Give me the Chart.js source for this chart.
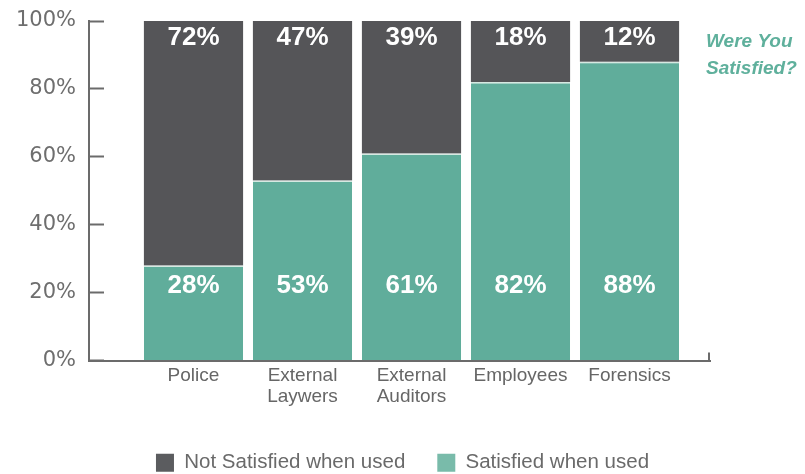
<!DOCTYPE html>
<html><head><meta charset="utf-8">
<script src="https://cdn.jsdelivr.net/npm/chart.js@4/dist/chart.umd.min.js"></script>
<style>html,body{margin:0;padding:0;background:#fff;} #wrap{width:805px;height:474px;position:relative;}</style>
</head><body><div id="wrap"><canvas id="c"></canvas></div>
<script>
const categories = [['Police'], ['External', 'Laywers'], ['External', 'Auditors'], ['Employees'], ['Forensics']];
const satisfied = [28, 53, 61, 82, 88];
const notSatisfied = [72, 47, 39, 18, 12];
const yTicks = [0, 20, 40, 60, 80, 100];
const seriesNames = ['Satisfied when used', 'Not Satisfied when used'];
const sideNote = ['Were You', 'Satisfied?'];

const GRAY = '#555558', TEAL = '#60ad9b', AXIS = '#6b6b6b';
const toPoints = arr => arr.map((v, i) => ({x: i, y: v}));

const valueLabels = {
  id: 'valueLabels',
  afterDatasetsDraw(chart) {
    const ctx = chart.ctx, ys = chart.scales.y;
    ctx.save();
    ctx.font = 'bold 26px "Liberation Sans", Arial, sans-serif';
    ctx.fillStyle = '#ffffff';
    ctx.textAlign = 'center';
    ctx.textBaseline = 'middle';
    chart.getDatasetMeta(1).data.forEach((bar, i) => {
      ctx.fillText(notSatisfied[i] + '%', bar.x, bar.y + 17);
    });
    chart.getDatasetMeta(0).data.forEach((bar, i) => {
      ctx.fillText(satisfied[i] + '%', bar.x, ys.getPixelForValue(22.2) + 1);
    });
    ctx.restore();
  },
  afterDraw(chart) {
    const ctx = chart.ctx, a = chart.chartArea, xs = chart.scales.x;
    ctx.save();
    ctx.strokeStyle = AXIS; ctx.lineWidth = 2;
    ctx.beginPath();
    ctx.moveTo(xs.right - 1, a.bottom);
    ctx.lineTo(xs.right - 1, a.bottom - 8);
    ctx.stroke();
    ctx.font = 'italic bold 19px "Liberation Sans", Arial, sans-serif';
    ctx.fillStyle = '#5fb09c';
    ctx.textAlign = 'left';
    ctx.textBaseline = 'middle';
    ctx.fillText(sideNote[0], a.right - 4, a.top + 21);
    ctx.fillText(sideNote[1], a.right - 4, a.top + 48);
    ctx.restore();
  }
};

const legendFills = ['#79bbaa', '#5b5c5f'];

new Chart(document.getElementById('c'), {
  type: 'bar',
  data: {
    datasets: [
      {label: seriesNames[0], data: toPoints(satisfied), backgroundColor: TEAL,
       borderColor: '#d6e9e2', borderWidth: {top: 1.5, left: 0, right: 0, bottom: 0},
       barPercentage: 0.91, categoryPercentage: 1},
      {label: seriesNames[1], data: toPoints(notSatisfied), backgroundColor: GRAY,
       borderWidth: 0, barPercentage: 0.91, categoryPercentage: 1}
    ]
  },
  options: {
    responsive: true,
    maintainAspectRatio: false,
    animation: false,
    devicePixelRatio: 1,
    layout: {padding: {top: 21, right: 0, bottom: -9, left: 0}},
    plugins: {
      tooltip: {enabled: false},
      legend: {
        position: 'bottom',
        reverse: true,
        labels: {
          boxWidth: 18, boxHeight: 18, padding: 32, color: '#6a6a6a',
          font: {family: '"Liberation Sans", Arial, sans-serif', size: 20.5},
          generateLabels(chart) {
            const items = Chart.defaults.plugins.legend.labels.generateLabels(chart);
            items.forEach(it => { it.lineWidth = 0; it.strokeStyle = 'rgba(0,0,0,0)'; it.fillStyle = legendFills[it.datasetIndex]; });
            return items;
          }
        }
      }
    },
    scales: {
      x: {
        type: 'linear', stacked: true, min: -0.9587, max: 4.7385, offset: false,
        grid: {display: false, drawTicks: false, offset: false},
        border: {display: true, color: AXIS, width: 2},
        afterBuildTicks: s => { s.ticks = categories.map((_, i) => ({value: i})); },
        ticks: {
          autoSkip: false, maxRotation: 0, minRotation: 0, padding: 5, color: '#666666',
          font: {family: '"Liberation Sans", Arial, sans-serif', size: 19, lineHeight: 1.1},
          callback: v => categories[v]
        },
        afterFit: s => { s.height = 60; s.paddingLeft = 0; s.paddingRight = 0; }
      },
      y: {
        stacked: true, min: 0, max: 100,
        afterBuildTicks: s => { s.ticks = yTicks.map(v => ({value: v})); },
        grid: {drawOnChartArea: false, tickLength: -15, color: AXIS, tickColor: AXIS, tickWidth: 2},
        border: {display: true, color: AXIS, width: 2},
        ticks: {padding: 28, color: '#6e6e6e', font: {family: '"DejaVu Sans", sans-serif', size: 21}, callback: v => v + '%'},
        afterFit: s => { s.width = 89; s.paddingTop = 0; s.paddingBottom = 0; }
      },
      side: {
        position: 'right', display: true,
        grid: {display: false, drawTicks: false}, border: {display: false},
        ticks: {display: false},
        afterFit: s => { s.width = 95; s.paddingTop = 0; s.paddingBottom = 0; }
      }
    }
  },
  plugins: [valueLabels]
});
</script>
</body></html>
